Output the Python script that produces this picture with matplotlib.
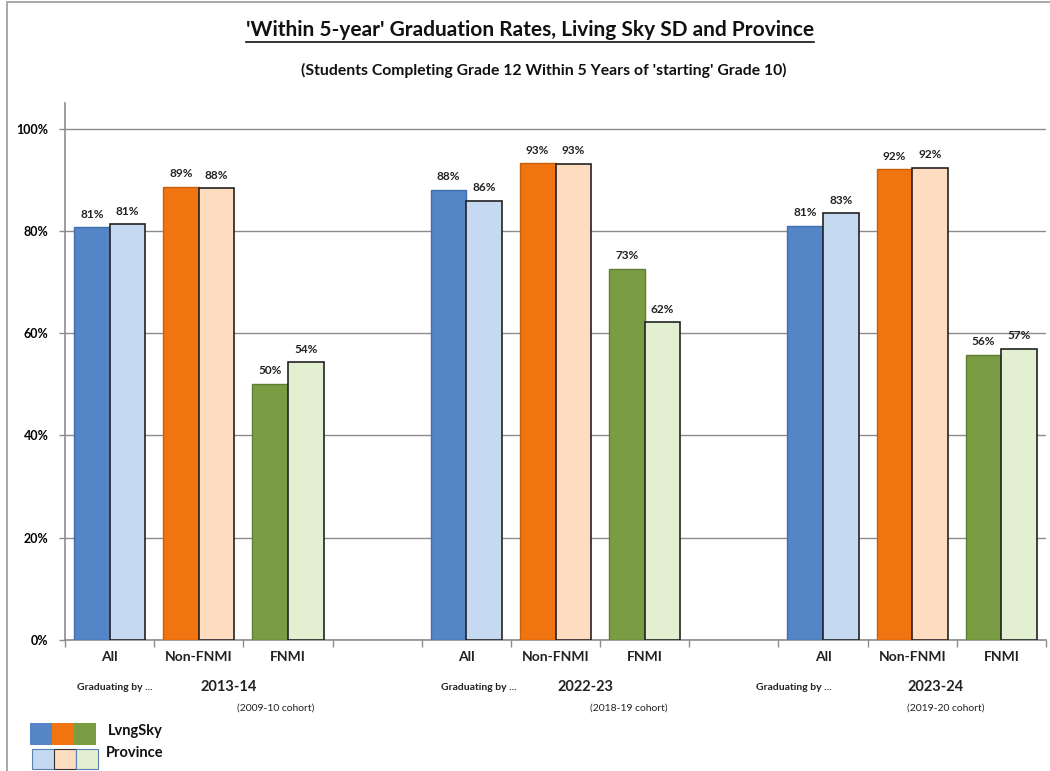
import numpy as np
import matplotlib
matplotlib.use("Agg")
import matplotlib.pyplot as plt
from matplotlib.patches import Rectangle
from matplotlib.lines import Line2D

plt.rcParams['font.family'] = ['Lato', 'DejaVu Sans']

# DATOS
categorias = ["All", "Non-FNMI", "FNMI"]
anios = ["2013-14", "2022-23", "2023-24"]
cohortes = ["(2009-10 cohort)", "(2018-19 cohort)", "(2019-20 cohort)"]

lvngsky = [80.7, 88.6, 50.1, 88.0, 93.2, 72.6, 81.0, 92.0, 55.8]
provincia = [81.3, 88.3, 54.3, 85.9, 93.1, 62.1, 83.4, 92.3, 56.9]

# COLORES
col_lvng = ["#5585C6", "#F07511", "#7A9C43"]
borde_lvng = ["#3E6FAD", "#C95F08", "#5F7E30"]
col_prov = ["#C5D9F0", "#FDDCBF", "#E3EFD1"]

# posiciones de los slots (3 grupos de 3, con un hueco entre grupos)
slots = [0, 1, 2, 4, 5, 6, 8, 9, 10]
ancho = 0.4

fig = plt.figure(figsize=(10.5, 7.71), dpi=100)
ax = fig.add_axes([65/1050, 1-640/771, 981/1050, (640-103)/771])

for k, s in enumerate(slots):
    c = k % 3
    ax.bar(s - ancho/2, lvngsky[k], ancho, color=col_lvng[c],
           edgecolor=borde_lvng[c], linewidth=1.0, zorder=3)
    ax.bar(s + ancho/2, provincia[k], ancho, color=col_prov[c],
           edgecolor="#222222", linewidth=1.2, zorder=3)
    ax.text(s - ancho/2, lvngsky[k] + 1.5, f"{lvngsky[k]:.0f}%",
            ha="center", va="bottom", fontsize=8.5, fontweight="bold", color="#222222")
    ax.text(s + ancho/2, provincia[k] + 1.5, f"{provincia[k]:.0f}%",
            ha="center", va="bottom", fontsize=8.5, fontweight="bold", color="#222222")

ax.set_xlim(-0.5, 10.5)
ax.set_ylim(0, 105)
ax.set_yticks([0, 20, 40, 60, 80, 100])
ax.set_yticklabels([f"{v}%" for v in [0, 20, 40, 60, 80, 100]],
                   fontsize=9, fontweight="bold")
ax.yaxis.grid(True, color="#8C8C8C", linewidth=1.0, zorder=0)
ax.set_axisbelow(True)

# ticks en los limites entre slots
ax.set_xticks(np.arange(-0.5, 10.6, 1.0))
ax.set_xticklabels([])
ax.tick_params(axis="x", length=5, color="#8C8C8C", width=1)
ax.tick_params(axis="y", length=4, color="#8C8C8C", width=1, pad=8)

for lado in ["top", "right"]:
    ax.spines[lado].set_visible(False)
for lado in ["left", "bottom"]:
    ax.spines[lado].set_color("#8C8C8C")
    ax.spines[lado].set_linewidth(1.2)

# etiquetas de categoria
trans = ax.get_xaxis_transform()
for k, s in enumerate(slots):
    ax.text(s, -0.032, categorias[k % 3], transform=trans, ha="center",
            va="center", fontsize=10, fontweight="bold", color="#222222")

# etiquetas de grupo
pos_grad = [0.06, 4.14, 7.67]
pos_anio = [1.33, 5.34, 9.26]
pos_coh = [1.86, 5.82, 9.38]
for g in range(3):
    ax.text(pos_grad[g], -0.088, "Graduating by ...", transform=trans,
            ha="center", va="center", fontsize=7.5, fontweight="bold", color="#222222")
    ax.text(pos_anio[g], -0.088, anios[g], transform=trans,
            ha="center", va="center", fontsize=10.5, fontweight="bold", color="#222222")
    ax.text(pos_coh[g], -0.127, cohortes[g], transform=trans,
            ha="center", va="center", fontsize=7.5, color="#222222")

# TITULOS
t = fig.text(530/1050, 1-30/771, "'Within 5-year' Graduation Rates, Living Sky SD and Province",
             ha="center", va="center", fontsize=15, fontweight="bold", color="#111111")
fig.text(544/1050, 1-70/771, "(Students Completing Grade 12 Within 5 Years of 'starting' Grade 10)",
         ha="center", va="center", fontsize=11.3, fontweight="bold", color="#111111")

# subrayado del titulo
fig.canvas.draw()
bb = t.get_window_extent().transformed(fig.transFigure.inverted())
fig.add_artist(Line2D([bb.x0, bb.x1], [bb.y0 - 0.002, bb.y0 - 0.002],
                      transform=fig.transFigure, color="#111111", linewidth=1.2))

# marco del grafico
fig.add_artist(Rectangle((7/1050, -0.01), 1.2, 1.0 + 0.01 - 2/771,
                         transform=fig.transFigure, fill=False,
                         edgecolor="#9A9A9A", linewidth=1.2))

# LEYENDA
w, h = 22/1050, 22/771
for c in range(3):
    fig.add_artist(Rectangle(((30 + 22*c)/1050, 1-745/771), w, h,
                             transform=fig.transFigure, facecolor=col_lvng[c],
                             edgecolor="none"))
    fig.add_artist(Rectangle(((32 + 22*c)/1050, 1-769/771), w, h*0.9,
                             transform=fig.transFigure, facecolor=col_prov[c],
                             edgecolor="#5A7FB0" if c != 1 else "#333333", linewidth=0.8))
fig.text(108/1050, 1-731/771, "LvngSky", ha="left", va="center",
         fontsize=10.5, fontweight="bold", color="#111111")
fig.text(106/1050, 1-753/771, "Province", ha="left", va="center",
         fontsize=10.5, fontweight="bold", color="#111111")

fig.savefig("out.png", dpi=100)
